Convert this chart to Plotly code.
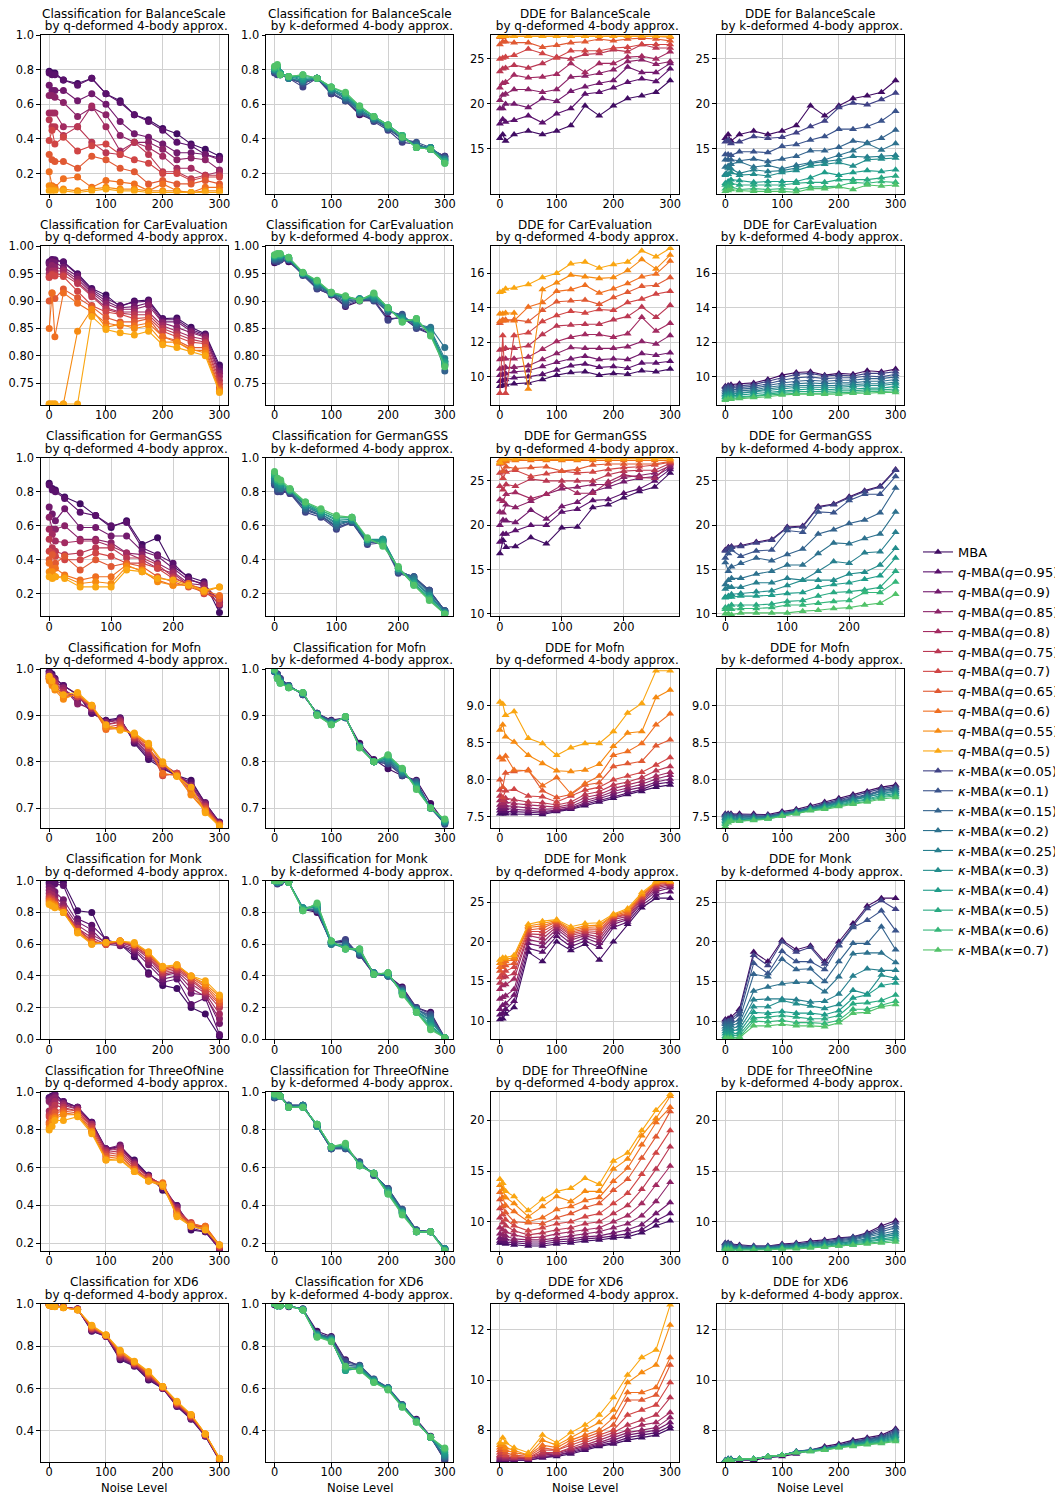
import plotly.graph_objects as go
from plotly.colors import sample_colorscale

# ---------------- data ----------------
NOISE = [0, 5, 10, 25, 50, 75, 100, 125, 150, 175, 200, 225, 250, 275, 300]
NOISE_GER = [0, 5, 10, 25, 50, 75, 100, 125, 150, 175, 200, 225, 250, 275]
DATASETS = ["BalanceScale", "CarEvaluation", "GermanGSS", "Mofn", "Monk", "ThreeOfNine", "XD6"]
Q_VALUES = ["0.95", "0.9", "0.85", "0.8", "0.75", "0.7", "0.65", "0.6", "0.55", "0.5"]
K_VALUES = ["0.05", "0.1", "0.15", "0.2", "0.25", "0.3", "0.4", "0.5", "0.6", "0.7"]

# each panel: first list = MBA, then 10 deformed variants
BAL_CLS_Q = [
    [.79, .78, .78, .74, .72, .75, .66, .62, .54, .51, .46, .43, .37, .34, .30],
    [.78, .77, .77, .74, .71, .75, .66, .61, .54, .50, .45, .38, .36, .31, .29],
    [.71, .68, .68, .68, .62, .66, .60, .50, .43, .41, .37, .32, .32, .31, .28],
    [.65, .65, .64, .61, .53, .58, .54, .42, .38, .38, .34, .28, .29, .28, .22],
    [.55, .55, .55, .47, .47, .59, .47, .33, .38, .35, .30, .23, .23, .19, .21],
    [.51, .47, .47, .42, .47, .38, .32, .31, .38, .31, .21, .21, .17, .19, .19],
    [.39, .45, .37, .41, .33, .36, .37, .31, .28, .26, .20, .20, .16, .18, .18],
    [.31, .28, .27, .27, .23, .30, .28, .23, .21, .14, .16, .14, .14, .16, .14],
    [.21, .13, .12, .17, .18, .12, .16, .15, .14, .10, .14, .10, .09, .12, .12],
    [.13, .12, .11, .11, .10, .11, .12, .11, .11, .10, .10, .10, .09, .10, .10],
    [.10, .10, .10, .10, .09, .10, .11, .10, .10, .09, .09, .09, .09, .09, .09]]
BAL_CLS_K = [
    [.79, .78, .78, .75, .72, .75, .66, .62, .54, .51, .46, .40, .37, .34, .30],
    [.78, .77, .77, .75, .70, .75, .66, .62, .55, .50, .45, .38, .37, .34, .30],
    [.79, .78, .77, .75, .72, .75, .67, .62, .55, .51, .46, .40, .38, .35, .29],
    [.79, .79, .77, .75, .73, .75, .68, .63, .56, .51, .46, .40, .37, .34, .29],
    [.80, .79, .78, .75, .73, .75, .68, .64, .56, .52, .47, .41, .36, .35, .28],
    [.80, .80, .78, .76, .74, .75, .69, .64, .57, .52, .47, .41, .36, .35, .28],
    [.80, .81, .78, .75, .74, .75, .69, .65, .57, .52, .47, .42, .35, .35, .28],
    [.81, .81, .78, .76, .75, .75, .69, .65, .58, .53, .48, .42, .35, .34, .27],
    [.81, .82, .78, .76, .76, .75, .70, .66, .58, .53, .48, .42, .35, .34, .27],
    [.81, .82, .77, .76, .77, .75, .70, .66, .59, .53, .48, .42, .35, .34, .26],
    [.82, .83, .77, .76, .77, .75, .70, .67, .59, .53, .48, .41, .35, .34, .26]]
BAL_DDE_Q = [
    [16.2, 16.6, 15.9, 16.6, 17.0, 16.6, 17.0, 17.6, 19.8, 18.7, 19.8, 20.6, 20.9, 21.3, 22.6],
    [17.8, 18.3, 18.0, 18.2, 18.7, 17.9, 18.9, 19.5, 21.1, 21.3, 21.8, 22.4, 22.8, 22.5, 23.9],
    [19.5, 19.5, 20.0, 20.0, 19.6, 20.6, 20.3, 21.4, 21.9, 22.3, 22.6, 24.1, 23.5, 23.5, 24.5],
    [20.4, 21.0, 21.1, 21.6, 21.6, 21.3, 21.6, 23.0, 23.1, 23.4, 23.8, 24.7, 24.9, 24.4, 24.7],
    [21.8, 22.3, 22.4, 23.2, 22.9, 23.0, 23.3, 24.5, 23.5, 24.5, 24.5, 25.2, 25.3, 25.0, 25.8],
    [23.6, 23.9, 24.0, 24.3, 24.0, 24.5, 25.2, 25.0, 25.5, 25.6, 26.0, 25.8, 26.6, 26.2, 26.2],
    [25.0, 25.1, 25.2, 25.4, 26.1, 25.6, 25.1, 25.9, 25.9, 25.9, 26.2, 26.3, 26.6, 26.6, 26.6],
    [26.6, 26.9, 26.9, 26.8, 26.8, 26.3, 26.5, 26.8, 26.9, 27.2, 27.0, 27.2, 27.3, 27.2, 27.0],
    [27.4, 27.4, 27.5, 27.5, 27.5, 27.5, 27.5, 27.5, 27.5, 27.5, 27.5, 27.5, 27.5, 27.5, 27.4],
    [27.5, 27.5, 27.5, 27.5, 27.5, 27.5, 27.5, 27.5, 27.5, 27.5, 27.5, 27.5, 27.5, 27.5, 27.5],
    [27.5, 27.5, 27.5, 27.5, 27.5, 27.5, 27.5, 27.5, 27.5, 27.5, 27.5, 27.5, 27.5, 27.5, 27.5]]
BAL_DDE_K = [
    [16.2, 16.6, 15.9, 16.6, 17.0, 16.6, 17.0, 17.6, 19.8, 18.7, 19.8, 20.6, 20.9, 21.3, 22.6],
    [15.8, 16.0, 15.6, 15.8, 16.4, 16.2, 16.3, 16.8, 17.5, 18.1, 19.6, 20.1, 19.9, 20.5, 21.2],
    [14.4, 14.4, 14.3, 14.7, 14.7, 14.6, 15.3, 15.5, 16.0, 16.4, 17.2, 17.2, 17.5, 18.1, 19.2],
    [13.8, 13.8, 13.8, 13.7, 13.9, 13.6, 13.9, 14.2, 14.8, 14.8, 15.2, 15.9, 15.7, 16.2, 17.1],
    [13.0, 13.1, 13.3, 13.6, 13.0, 13.2, 12.8, 13.2, 13.5, 13.8, 14.3, 14.8, 15.6, 14.9, 15.6],
    [12.2, 12.9, 12.8, 12.3, 12.7, 12.5, 12.6, 12.9, 13.4, 13.6, 13.8, 14.2, 14.1, 14.2, 14.3],
    [12.1, 12.2, 12.4, 12.1, 12.2, 12.0, 12.4, 12.6, 13.1, 13.3, 13.5, 13.1, 13.8, 13.9, 14.0],
    [11.2, 11.4, 11.6, 11.5, 11.3, 11.4, 11.4, 11.4, 11.8, 12.4, 12.1, 12.4, 12.6, 12.5, 12.7],
    [11.0, 11.1, 11.2, 11.0, 11.0, 11.0, 11.0, 11.2, 11.3, 11.3, 11.6, 11.6, 11.6, 11.8, 12.0],
    [10.6, 10.8, 10.8, 10.5, 10.6, 10.5, 10.6, 10.5, 10.8, 10.8, 10.9, 11.3, 11.2, 11.4, 11.3],
    [10.3, 10.4, 10.5, 10.4, 10.3, 10.3, 10.3, 10.2, 10.6, 10.6, 10.8, 10.5, 11.0, 10.9, 11.0]]

CAR_CLS_Q = [
    [.970, .975, .975, .972, .950, .923, .911, .890, .900, .902, .868, .869, .852, .840, .783],
    [.972, .976, .975, .971, .948, .921, .905, .892, .898, .900, .866, .866, .848, .838, .778],
    [.968, .972, .970, .962, .945, .918, .900, .888, .890, .897, .862, .862, .845, .836, .772],
    [.958, .965, .962, .958, .940, .915, .895, .885, .885, .892, .860, .852, .842, .834, .768],
    [.950, .955, .955, .955, .935, .912, .888, .880, .880, .880, .855, .845, .835, .830, .762],
    [.945, .950, .950, .948, .932, .908, .885, .878, .875, .875, .850, .840, .830, .825, .755],
    [.943, .948, .946, .945, .918, .892, .880, .876, .868, .870, .845, .835, .825, .822, .748],
    [.900, .915, .905, .922, .906, .890, .870, .862, .862, .868, .835, .828, .815, .815, .742],
    [.850, .915, .835, .915, .896, .880, .860, .855, .855, .860, .835, .825, .810, .810, .738],
    [.712, .712, .712, .712, .845, .885, .852, .858, .850, .855, .825, .825, .812, .805, .735],
    [.712, .712, .712, .712, .712, .872, .848, .842, .838, .845, .820, .815, .808, .800, .733]]
CAR_CLS_K = [
    [.970, .975, .975, .972, .950, .923, .911, .890, .900, .902, .868, .869, .852, .840, .783],
    [.973, .972, .975, .975, .947, .922, .912, .892, .902, .900, .865, .872, .850, .840, .790],
    [.975, .975, .976, .975, .948, .925, .913, .896, .903, .902, .880, .876, .852, .845, .785],
    [.976, .978, .978, .976, .949, .928, .913, .900, .903, .903, .882, .873, .855, .850, .772],
    [.978, .980, .980, .977, .950, .930, .914, .903, .904, .905, .884, .870, .858, .852, .815],
    [.980, .982, .982, .978, .950, .932, .914, .905, .905, .907, .885, .870, .860, .848, .795],
    [.981, .983, .983, .978, .951, .934, .915, .906, .904, .908, .886, .868, .862, .845, .790],
    [.982, .984, .984, .979, .951, .935, .915, .907, .903, .910, .887, .866, .864, .842, .788],
    [.983, .985, .985, .979, .952, .936, .915, .908, .902, .912, .888, .864, .866, .840, .785],
    [.984, .986, .986, .980, .952, .937, .916, .909, .902, .914, .888, .862, .868, .838, .782],
    [.985, .987, .987, .980, .953, .938, .916, .910, .901, .915, .888, .862, .868, .836, .780]]
CAR_DDE_Q = [
    [9.45, 9.5, 9.55, 9.6, 9.65, 9.85, 10.1, 10.25, 10.3, 10.1, 10.2, 10.15, 10.35, 10.3, 10.45],
    [9.75, 9.8, 9.85, 9.95, 10.0, 10.15, 10.4, 10.65, 10.75, 10.55, 10.6, 10.5, 10.8, 10.8, 10.9],
    [10.1, 10.15, 10.2, 10.3, 10.35, 10.6, 10.85, 11.05, 11.2, 11.0, 11.05, 11.0, 11.35, 11.25, 11.4],
    [10.45, 10.5, 10.55, 10.55, 10.65, 11.0, 11.35, 11.7, 11.65, 11.65, 11.65, 11.75, 12.05, 11.9, 12.4],
    [11.0, 11.05, 11.05, 11.05, 11.15, 11.6, 12.05, 12.3, 12.45, 12.45, 12.3, 12.5, 13.45, 12.65, 13.1],
    [11.55, 11.6, 11.65, 11.65, 11.8, 12.45, 12.95, 13.0, 13.05, 13.05, 13.3, 13.5, 14.05, 13.45, 14.15],
    [9.05, 12.4, 9.05, 12.4, 12.55, 13.2, 13.55, 13.8, 13.7, 13.9, 13.85, 14.3, 14.5, 14.8, 14.95],
    [13.1, 13.25, 13.3, 13.3, 13.2, 13.85, 14.35, 14.4, 14.45, 14.2, 14.6, 14.9, 15.25, 15.3, 15.75],
    [13.2, 13.3, 13.25, 13.25, 14.05, 14.3, 14.95, 15.05, 15.3, 14.85, 15.1, 15.4, 15.8, 15.95, 16.7],
    [13.65, 13.65, 13.7, 13.7, 9.3, 15.05, 15.45, 15.9, 15.8, 15.7, 15.75, 16.15, 16.8, 16.25, 17.05],
    [14.9, 14.95, 15.1, 15.15, 15.35, 15.75, 16.0, 16.55, 16.65, 16.3, 16.5, 16.65, 17.3, 16.95, 17.45]]
CAR_DDE_K = [
    [9.45, 9.5, 9.55, 9.6, 9.65, 9.85, 10.1, 10.25, 10.3, 10.1, 10.2, 10.15, 10.35, 10.3, 10.45],
    [9.4, 9.45, 9.45, 9.5, 9.55, 9.75, 9.95, 10.15, 10.2, 10.05, 10.1, 10.05, 10.2, 10.2, 10.3],
    [9.3, 9.35, 9.35, 9.4, 9.45, 9.6, 9.8, 9.95, 10.0, 9.9, 9.95, 9.95, 10.05, 10.0, 10.15],
    [9.2, 9.25, 9.25, 9.3, 9.35, 9.5, 9.65, 9.75, 9.8, 9.75, 9.8, 9.8, 9.9, 9.9, 10.0],
    [9.1, 9.15, 9.15, 9.2, 9.25, 9.4, 9.5, 9.6, 9.65, 9.6, 9.65, 9.65, 9.75, 9.75, 9.85],
    [9.0, 9.05, 9.05, 9.1, 9.15, 9.3, 9.4, 9.5, 9.5, 9.5, 9.5, 9.55, 9.6, 9.6, 9.7],
    [8.95, 9.0, 9.0, 9.05, 9.1, 9.2, 9.3, 9.4, 9.4, 9.4, 9.4, 9.45, 9.5, 9.5, 9.6],
    [8.85, 8.9, 8.9, 8.95, 9.0, 9.1, 9.2, 9.25, 9.3, 9.25, 9.3, 9.3, 9.35, 9.35, 9.45],
    [8.8, 8.8, 8.85, 8.85, 8.9, 9.0, 9.1, 9.15, 9.15, 9.15, 9.2, 9.2, 9.25, 9.25, 9.3],
    [8.7, 8.75, 8.75, 8.8, 8.85, 8.95, 9.0, 9.05, 9.05, 9.05, 9.1, 9.1, 9.15, 9.15, 9.2],
    [8.65, 8.7, 8.7, 8.75, 8.8, 8.85, 8.95, 9.0, 9.0, 9.0, 9.0, 9.05, 9.05, 9.1, 9.1]]

GER_CLS_Q = [
    [.85, .82, .81, .77, .73, .66, .59, .63, .49, .53, .36, .30, .27, .09],
    [.84, .81, .80, .76, .68, .66, .60, .62, .47, .43, .38, .29, .25, .13],
    [.71, .67, .63, .70, .59, .59, .54, .54, .45, .42, .35, .28, .26, .15],
    [.65, .58, .58, .60, .52, .52, .50, .44, .43, .38, .33, .26, .25, .16],
    [.58, .55, .51, .50, .51, .51, .48, .44, .40, .35, .32, .25, .23, .17],
    [.52, .47, .45, .43, .44, .47, .47, .41, .41, .37, .30, .25, .22, .14],
    [.45, .44, .42, .40, .40, .44, .42, .38, .38, .35, .29, .26, .20, .18],
    [.40, .43, .38, .42, .34, .40, .36, .38, .36, .30, .27, .24, .21, .17],
    [.38, .35, .35, .31, .28, .30, .30, .37, .33, .28, .25, .26, .22, .19],
    [.33, .33, .30, .30, .26, .27, .26, .36, .34, .27, .25, .25, .21, .24],
    [.30, .29, .30, .29, .24, .24, .24, .34, .33, .29, .28, .25, .22, .24]]
GER_CLS_K = [
    [.85, .82, .81, .79, .70, .66, .59, .62, .50, .51, .33, .30, .22, .10],
    [.84, .80, .80, .79, .68, .65, .58, .62, .49, .50, .32, .29, .22, .10],
    [.85, .81, .81, .80, .69, .66, .59, .62, .50, .51, .33, .30, .22, .10],
    [.86, .82, .82, .80, .70, .66, .60, .63, .50, .51, .33, .30, .21, .10],
    [.87, .83, .82, .81, .71, .67, .61, .63, .51, .52, .34, .29, .20, .09],
    [.88, .84, .83, .81, .72, .67, .62, .63, .51, .52, .34, .28, .19, .09],
    [.89, .85, .84, .81, .72, .68, .63, .64, .52, .52, .35, .27, .19, .09],
    [.90, .86, .85, .81, .73, .68, .64, .64, .52, .51, .35, .26, .18, .08],
    [.90, .87, .86, .81, .73, .69, .65, .65, .52, .50, .35, .26, .17, .08],
    [.91, .87, .86, .81, .74, .69, .65, .65, .52, .49, .35, .25, .17, .08],
    [.92, .88, .87, .82, .74, .70, .66, .65, .53, .48, .36, .25, .16, .08]]
GER_DDE_Q = [
    [16.8, 18.3, 17.5, 17.6, 18.6, 17.9, 19.7, 19.8, 22.0, 22.3, 23.1, 23.8, 24.3, 25.9],
    [18.1, 19.0, 19.0, 19.4, 20.0, 20.0, 21.5, 21.8, 22.8, 22.9, 23.6, 24.1, 25.0, 26.3],
    [20.0, 20.6, 20.5, 20.3, 21.7, 20.7, 22.1, 22.6, 23.8, 24.3, 24.9, 25.3, 25.5, 26.5],
    [21.5, 21.4, 22.3, 22.0, 22.7, 23.5, 24.1, 24.3, 24.6, 24.6, 25.4, 25.6, 25.9, 26.7],
    [22.9, 22.7, 23.5, 23.7, 23.0, 23.5, 24.5, 23.6, 23.6, 24.9, 25.7, 25.4, 25.3, 26.9],
    [24.4, 24.0, 24.6, 24.4, 25.2, 25.0, 25.0, 25.0, 25.0, 25.7, 26.1, 26.2, 26.2, 27.0],
    [25.9, 25.3, 26.0, 26.2, 25.5, 25.8, 26.1, 25.9, 26.0, 26.3, 26.5, 26.6, 26.8, 27.1],
    [26.9, 26.1, 26.6, 26.4, 26.5, 26.6, 26.1, 26.3, 26.8, 26.9, 26.9, 26.9, 26.9, 27.2],
    [27.3, 27.0, 27.2, 27.3, 27.3, 27.3, 27.3, 27.3, 27.3, 27.3, 27.3, 27.3, 27.3, 27.3],
    [27.0, 27.3, 27.4, 27.4, 27.5, 27.4, 27.4, 27.4, 27.5, 27.5, 27.5, 27.5, 27.5, 27.5],
    [27.1, 27.5, 27.5, 27.5, 27.5, 27.5, 27.5, 27.5, 27.5, 27.5, 27.5, 27.5, 27.5, 27.5]]
GER_DDE_K = [
    [17.2, 17.5, 17.6, 17.7, 18.1, 18.4, 19.8, 19.9, 22.1, 22.4, 23.2, 23.9, 24.4, 26.3],
    [17.1, 17.4, 17.5, 17.6, 18.0, 18.3, 19.7, 19.8, 22.0, 22.3, 23.1, 23.8, 24.3, 26.2],
    [16.3, 16.8, 17.2, 16.5, 17.1, 17.2, 19.4, 19.2, 21.5, 21.4, 22.8, 23.5, 23.5, 25.5],
    [15.8, 14.8, 15.3, 15.7, 16.3, 16.0, 16.7, 17.3, 19.0, 19.5, 20.2, 20.6, 21.4, 24.2],
    [13.3, 13.8, 14.0, 14.0, 14.5, 14.8, 15.5, 15.5, 16.8, 18.0, 17.9, 18.5, 19.0, 21.5],
    [12.8, 13.0, 13.0, 13.0, 13.5, 13.5, 14.0, 13.8, 14.8, 15.9, 15.7, 16.9, 17.0, 19.2],
    [11.9, 12.0, 12.2, 12.3, 12.5, 12.6, 13.2, 13.8, 13.8, 13.8, 14.5, 14.7, 15.5, 17.4],
    [11.8, 11.9, 11.9, 12.0, 12.0, 12.1, 12.3, 12.4, 13.0, 13.3, 13.5, 13.9, 14.3, 16.3],
    [10.7, 10.8, 11.0, 11.0, 11.0, 11.1, 11.4, 11.5, 12.0, 12.4, 12.5, 12.7, 13.0, 14.8],
    [10.5, 10.5, 10.5, 10.6, 10.6, 10.7, 11.0, 11.0, 11.2, 11.4, 11.5, 12.4, 12.4, 13.6],
    [10.0, 10.0, 9.9, 10.1, 10.1, 10.1, 10.1, 10.3, 10.4, 10.6, 10.7, 11.0, 11.2, 12.2]]

MOF_CLS_Q = [
    [.995, .99, .98, .965, .945, .905, .89, .895, .84, .805, .785, .77, .76, .71, .67],
    [.995, .985, .98, .965, .945, .905, .888, .893, .842, .81, .787, .77, .755, .712, .668],
    [.99, .985, .975, .96, .93, .91, .885, .893, .845, .815, .79, .772, .75, .71, .668],
    [.99, .98, .975, .96, .925, .915, .885, .89, .848, .82, .79, .773, .748, .708, .667],
    [.985, .98, .97, .955, .94, .915, .88, .888, .85, .825, .792, .775, .745, .705, .666],
    [.985, .975, .97, .95, .94, .918, .88, .885, .852, .828, .795, .775, .74, .703, .665],
    [.98, .975, .965, .945, .942, .92, .875, .88, .855, .83, .77, .775, .738, .70, .665],
    [.98, .97, .96, .94, .945, .92, .872, .875, .857, .835, .772, .772, .735, .698, .664],
    [.98, .97, .96, .94, .945, .92, .87, .872, .858, .835, .775, .77, .73, .695, .663],
    [.975, .965, .955, .935, .948, .922, .875, .87, .86, .838, .795, .77, .728, .693, .662],
    [.985, .975, .96, .945, .95, .922, .88, .868, .862, .84, .80, .768, .745, .69, .66]]
MOF_CLS_K = [
    [.995, .99, .98, .965, .945, .905, .89, .895, .84, .805, .785, .77, .76, .71, .67],
    [.995, .99, .98, .965, .945, .905, .888, .895, .835, .80, .795, .77, .758, .70, .665],
    [.995, .988, .978, .965, .946, .905, .887, .895, .834, .80, .797, .772, .756, .70, .667],
    [.995, .986, .976, .964, .947, .904, .886, .896, .834, .80, .80, .774, .754, .70, .668],
    [.997, .985, .975, .963, .947, .903, .885, .896, .833, .80, .802, .776, .752, .70, .669],
    [.997, .984, .974, .962, .948, .903, .884, .897, .833, .80, .805, .778, .75, .70, .67],
    [.998, .983, .973, .962, .948, .902, .883, .897, .832, .80, .807, .78, .748, .70, .671],
    [.998, .982, .972, .961, .949, .902, .882, .897, .832, .80, .81, .782, .746, .70, .672],
    [.999, .981, .971, .96, .949, .901, .881, .898, .831, .80, .812, .784, .744, .70, .674],
    [.999, .98, .97, .96, .95, .901, .88, .898, .831, .80, .814, .785, .742, .70, .675],
    [1.0, .98, .97, .96, .95, .90, .88, .898, .83, .80, .815, .786, .74, .70, .676]]
MOF_DDE_Q = [
    [7.54, 7.54, 7.54, 7.54, 7.54, 7.53, 7.57, 7.60, 7.65, 7.70, 7.75, 7.80, 7.84, 7.90, 7.93],
    [7.58, 7.57, 7.57, 7.57, 7.56, 7.55, 7.58, 7.61, 7.67, 7.72, 7.78, 7.83, 7.87, 7.94, 7.97],
    [7.62, 7.60, 7.61, 7.60, 7.58, 7.57, 7.59, 7.62, 7.69, 7.75, 7.81, 7.86, 7.90, 7.97, 8.01],
    [7.66, 7.64, 7.65, 7.64, 7.62, 7.60, 7.61, 7.64, 7.72, 7.77, 7.84, 7.89, 7.94, 8.01, 8.06],
    [7.72, 7.68, 7.70, 7.68, 7.66, 7.64, 7.63, 7.67, 7.76, 7.80, 7.88, 7.93, 7.98, 8.05, 8.10],
    [7.78, 7.72, 7.75, 7.73, 7.70, 7.69, 7.66, 7.70, 7.80, 7.84, 7.93, 7.97, 8.03, 8.12, 8.18],
    [7.86, 7.76, 7.85, 7.87, 7.78, 7.77, 7.70, 7.78, 7.86, 7.90, 8.00, 8.05, 8.10, 8.20, 8.30],
    [8.00, 7.90, 8.09, 8.11, 8.13, 7.85, 7.76, 7.80, 7.93, 7.96, 8.18, 8.22, 8.25, 8.46, 8.54],
    [8.30, 8.27, 8.32, 8.13, 8.12, 7.92, 8.03, 7.81, 7.95, 8.05, 8.33, 8.38, 8.49, 8.74, 8.89],
    [8.67, 8.74, 8.58, 8.51, 8.33, 8.22, 8.12, 8.11, 8.13, 8.21, 8.45, 8.63, 8.65, 9.11, 9.21],
    [9.05, 9.02, 8.87, 8.92, 8.56, 8.49, 8.33, 8.43, 8.49, 8.49, 8.65, 8.90, 9.03, 9.47, 9.47]]
MOF_DDE_K = [
    [7.54, 7.54, 7.54, 7.54, 7.54, 7.53, 7.57, 7.60, 7.65, 7.70, 7.75, 7.80, 7.84, 7.90, 7.93],
    [7.53, 7.53, 7.53, 7.52, 7.52, 7.52, 7.55, 7.58, 7.63, 7.68, 7.73, 7.78, 7.82, 7.88, 7.91],
    [7.52, 7.52, 7.52, 7.51, 7.51, 7.51, 7.55, 7.58, 7.62, 7.67, 7.72, 7.76, 7.80, 7.86, 7.89],
    [7.51, 7.51, 7.51, 7.50, 7.50, 7.50, 7.54, 7.57, 7.62, 7.66, 7.71, 7.75, 7.79, 7.85, 7.88],
    [7.49, 7.50, 7.50, 7.49, 7.49, 7.50, 7.54, 7.57, 7.61, 7.65, 7.70, 7.74, 7.78, 7.84, 7.86],
    [7.48, 7.49, 7.49, 7.48, 7.49, 7.49, 7.53, 7.56, 7.61, 7.64, 7.69, 7.73, 7.77, 7.82, 7.85],
    [7.46, 7.48, 7.48, 7.47, 7.48, 7.49, 7.53, 7.56, 7.60, 7.64, 7.68, 7.72, 7.76, 7.81, 7.83],
    [7.44, 7.47, 7.47, 7.46, 7.47, 7.48, 7.52, 7.55, 7.60, 7.63, 7.67, 7.71, 7.74, 7.79, 7.81],
    [7.42, 7.45, 7.46, 7.45, 7.46, 7.48, 7.52, 7.55, 7.59, 7.62, 7.66, 7.69, 7.73, 7.77, 7.80],
    [7.40, 7.44, 7.45, 7.44, 7.46, 7.47, 7.51, 7.54, 7.59, 7.61, 7.65, 7.68, 7.71, 7.76, 7.78],
    [7.37, 7.42, 7.44, 7.44, 7.45, 7.47, 7.51, 7.54, 7.58, 7.60, 7.64, 7.67, 7.70, 7.74, 7.76]]

MON_CLS_Q = [
    [.99, .99, .99, .99, .81, .80, .62, .60, .52, .42, .34, .32, .20, .16, .02],
    [.98, .99, .98, .97, .76, .72, .63, .60, .54, .41, .36, .38, .22, .26, .03],
    [.96, .95, .93, .88, .74, .69, .60, .59, .56, .47, .38, .40, .29, .28, .10],
    [.94, .93, .90, .85, .72, .66, .61, .60, .57, .49, .40, .42, .32, .27, .13],
    [.92, .91, .88, .83, .70, .64, .60, .61, .58, .51, .41, .43, .35, .29, .16],
    [.90, .89, .87, .82, .70, .62, .60, .61, .59, .52, .42, .44, .37, .30, .20],
    [.89, .88, .86, .81, .69, .62, .60, .62, .59, .53, .43, .45, .38, .31, .22],
    [.88, .87, .85, .81, .68, .61, .60, .62, .60, .54, .44, .46, .39, .33, .23],
    [.87, .86, .85, .80, .68, .61, .61, .62, .60, .54, .45, .46, .40, .34, .25],
    [.86, .85, .84, .80, .68, .60, .61, .62, .60, .55, .45, .47, .40, .35, .27],
    [.85, .84, .83, .80, .67, .60, .61, .62, .61, .55, .46, .47, .40, .37, .28]]
MON_CLS_K = [
    [1.0, .99, .99, .99, .82, .80, .61, .62, .53, .41, .40, .33, .20, .17, .01],
    [1.0, .98, .99, .99, .82, .81, .61, .63, .53, .41, .40, .32, .20, .16, .01],
    [1.0, .99, .99, .99, .82, .82, .61, .61, .54, .42, .40, .31, .19, .15, .01],
    [1.0, .99, 1.0, .99, .82, .82, .60, .60, .54, .42, .40, .31, .19, .14, .01],
    [1.0, .99, 1.0, .99, .83, .83, .60, .59, .55, .42, .40, .30, .19, .13, .01],
    [1.0, .99, 1.0, .99, .83, .83, .60, .58, .55, .42, .41, .30, .18, .12, .01],
    [1.0, .99, 1.0, .99, .83, .84, .61, .58, .56, .41, .41, .30, .18, .11, .01],
    [1.0, 1.0, 1.0, .99, .82, .84, .61, .57, .56, .41, .41, .29, .18, .09, .01],
    [1.0, 1.0, 1.0, .99, .82, .85, .62, .57, .57, .41, .42, .29, .17, .08, .01],
    [1.0, 1.0, 1.0, .99, .81, .85, .62, .57, .57, .41, .42, .29, .17, .07, .01],
    [1.0, 1.0, 1.0, .99, .81, .86, .62, .57, .57, .41, .42, .28, .17, .06, .01]]
MON_DDE_Q = [
    [10.2, 10.3, 10.9, 11.7, 18.7, 17.5, 20.0, 18.9, 19.7, 17.7, 20.0, 22.2, 24.3, 25.5, 25.5],
    [10.8, 11.0, 11.5, 12.5, 19.2, 18.7, 20.7, 19.4, 20.1, 19.3, 21.8, 22.5, 24.6, 25.9, 26.3],
    [11.5, 12.0, 12.2, 13.3, 19.8, 19.4, 21.2, 19.8, 20.5, 19.8, 22.2, 22.8, 24.9, 26.3, 26.8],
    [12.8, 13.0, 13.2, 14.0, 20.3, 19.9, 21.6, 20.2, 20.8, 20.2, 22.5, 23.0, 25.1, 26.6, 27.0],
    [14.0, 14.5, 14.6, 15.3, 20.8, 20.4, 21.9, 20.5, 21.0, 20.6, 22.8, 23.2, 25.3, 26.8, 27.2],
    [14.8, 15.5, 15.6, 16.0, 21.0, 20.9, 22.1, 20.8, 21.2, 21.0, 23.0, 23.4, 25.5, 27.0, 27.3],
    [15.5, 16.0, 16.3, 16.8, 21.3, 21.3, 22.3, 21.0, 21.4, 21.3, 23.1, 23.5, 25.6, 27.2, 27.4],
    [16.3, 16.8, 17.0, 17.3, 21.5, 21.7, 22.5, 21.2, 21.6, 21.6, 23.2, 23.6, 25.8, 27.3, 27.5],
    [16.8, 17.3, 17.5, 17.8, 21.8, 22.0, 22.6, 21.4, 21.8, 21.9, 23.3, 23.8, 25.9, 27.4, 27.5],
    [17.3, 17.8, 17.8, 18.0, 22.0, 22.3, 22.7, 21.6, 22.0, 22.1, 23.4, 24.0, 26.0, 27.5, 27.6],
    [17.7, 18.0, 18.0, 18.3, 22.2, 22.6, 22.8, 21.9, 22.3, 22.4, 23.5, 24.2, 26.2, 27.6, 27.6]]
MON_DDE_K = [
    [10.2, 10.3, 10.5, 11.5, 18.7, 17.5, 20.2, 19.0, 19.5, 17.5, 20.0, 22.3, 24.5, 25.5, 25.5],
    [10.0, 10.0, 10.2, 11.2, 18.3, 17.0, 20.0, 18.7, 19.3, 17.2, 19.6, 22.0, 24.2, 25.2, 24.1],
    [9.8, 9.9, 10.0, 10.8, 17.3, 16.0, 18.8, 17.5, 17.5, 16.5, 19.5, 21.8, 22.7, 23.9, 21.4],
    [9.6, 9.6, 9.7, 10.2, 15.9, 15.6, 17.8, 16.5, 16.6, 15.0, 17.5, 19.8, 19.8, 21.9, 19.0],
    [9.3, 9.3, 9.4, 9.8, 13.8, 14.3, 14.7, 14.9, 14.9, 13.7, 15.6, 18.5, 18.6, 18.6, 17.4],
    [9.0, 9.0, 9.0, 9.4, 12.7, 12.8, 12.8, 12.7, 12.4, 12.5, 13.4, 15.7, 16.6, 16.4, 16.4],
    [8.7, 8.7, 8.7, 9.0, 11.8, 11.8, 12.6, 12.2, 11.9, 11.6, 12.1, 13.9, 13.4, 15.8, 15.4],
    [8.4, 8.4, 8.3, 8.6, 11.1, 11.0, 11.2, 11.0, 11.0, 10.8, 11.3, 12.9, 13.3, 14.5, 14.8],
    [8.1, 8.1, 8.1, 8.3, 10.4, 10.5, 10.7, 10.5, 10.3, 10.3, 10.7, 12.2, 12.3, 12.6, 13.3],
    [7.9, 7.9, 7.9, 8.0, 10.0, 9.9, 10.1, 9.8, 9.8, 9.7, 10.1, 11.5, 11.5, 12.0, 12.5],
    [7.8, 7.8, 7.8, 7.9, 9.4, 9.4, 9.6, 9.4, 9.4, 9.3, 9.8, 11.0, 11.1, 11.8, 12.1]]

THR_CLS_Q = [
    [.97, .98, .99, .95, .92, .84, .70, .71, .64, .56, .48, .40, .27, .26, .17],
    [.97, .97, .99, .95, .92, .84, .70, .71, .63, .56, .49, .40, .28, .26, .17],
    [.96, .97, .98, .94, .92, .83, .70, .72, .63, .55, .50, .39, .29, .27, .17],
    [.95, .96, .97, .94, .91, .83, .69, .71, .62, .55, .51, .39, .30, .27, .17],
    [.90, .93, .95, .93, .91, .83, .69, .70, .62, .55, .51, .38, .30, .28, .18],
    [.88, .91, .93, .92, .90, .82, .68, .69, .61, .55, .51, .37, .30, .28, .18],
    [.87, .89, .90, .91, .90, .81, .67, .68, .60, .54, .51, .37, .31, .28, .18],
    [.84, .87, .89, .90, .89, .80, .66, .67, .59, .54, .51, .36, .30, .29, .19],
    [.83, .86, .87, .89, .88, .79, .65, .66, .59, .53, .52, .35, .30, .29, .19],
    [.81, .84, .86, .88, .88, .79, .64, .65, .58, .53, .50, .35, .29, .28, .19],
    [.80, .82, .85, .85, .87, .78, .64, .64, .58, .53, .51, .34, .29, .27, .19]]
THR_CLS_K = [
    [.97, .98, .98, .93, .93, .82, .70, .71, .63, .56, .49, .37, .27, .26, .17],
    [.97, .98, .98, .93, .93, .82, .70, .70, .63, .56, .49, .38, .27, .26, .17],
    [.97, .98, .98, .93, .93, .82, .70, .70, .63, .56, .49, .38, .27, .26, .17],
    [.98, .98, .98, .93, .93, .82, .70, .71, .62, .57, .48, .37, .27, .26, .17],
    [.98, .99, .98, .92, .93, .82, .71, .71, .62, .57, .48, .37, .26, .26, .17],
    [.98, .99, .98, .92, .93, .82, .71, .71, .62, .57, .48, .37, .26, .26, .17],
    [.98, .99, .98, .92, .92, .82, .71, .72, .62, .57, .47, .36, .26, .26, .17],
    [.99, .99, .98, .92, .92, .83, .71, .72, .61, .57, .47, .36, .26, .26, .16],
    [.99, .99, .98, .92, .92, .83, .71, .72, .61, .57, .47, .36, .26, .26, .16],
    [.99, .99, .98, .92, .92, .83, .71, .72, .61, .57, .46, .36, .26, .26, .16],
    [.99, .99, .98, .92, .92, .83, .71, .73, .61, .57, .46, .35, .26, .26, .16]]
THR_DDE_Q = [
    [7.9, 7.9, 7.8, 7.7, 7.6, 7.6, 7.8, 7.9, 8.1, 8.2, 8.4, 8.5, 8.9, 9.6, 10.1],
    [8.1, 8.1, 8.0, 7.9, 7.8, 7.8, 8.0, 8.1, 8.3, 8.4, 8.6, 8.8, 9.2, 10.1, 10.8],
    [8.4, 8.3, 8.3, 8.1, 8.0, 8.0, 8.2, 8.3, 8.5, 8.6, 8.9, 9.2, 9.7, 10.8, 11.9],
    [8.8, 8.7, 8.6, 8.3, 8.2, 8.2, 8.4, 8.6, 8.8, 9.0, 9.4, 9.8, 10.6, 12.0, 13.9],
    [9.4, 9.2, 9.0, 8.7, 8.4, 8.5, 8.8, 9.0, 9.2, 9.4, 10.0, 10.6, 11.8, 13.6, 15.5],
    [10.4, 9.9, 9.6, 9.1, 8.7, 8.9, 9.2, 9.4, 9.8, 10.0, 10.8, 11.6, 13.2, 15.2, 17.4],
    [11.3, 10.7, 10.2, 9.6, 9.1, 9.4, 9.8, 10.0, 10.5, 10.8, 11.8, 12.8, 14.7, 16.8, 19.0],
    [12.2, 11.5, 10.9, 10.0, 9.9, 9.8, 10.4, 10.8, 11.4, 11.8, 13.1, 14.2, 16.3, 18.4, 20.9],
    [12.9, 12.4, 11.6, 11.0, 10.0, 10.4, 11.2, 11.5, 12.1, 12.4, 14.0, 15.3, 17.6, 19.8, 21.3],
    [13.6, 13.2, 12.4, 11.8, 10.5, 11.5, 12.5, 12.0, 13.0, 13.0, 15.2, 16.2, 18.5, 20.2, 22.4],
    [14.2, 13.8, 13.0, 12.5, 11.1, 12.2, 13.0, 13.3, 14.3, 13.7, 16.0, 16.8, 19.0, 21.0, 22.6]]
THR_DDE_K = [
    [7.9, 7.9, 7.8, 7.7, 7.6, 7.6, 7.8, 7.9, 8.1, 8.2, 8.4, 8.5, 8.9, 9.6, 10.1],
    [7.9, 7.9, 7.8, 7.6, 7.6, 7.6, 7.7, 7.8, 8.0, 8.1, 8.3, 8.5, 8.8, 9.4, 9.9],
    [7.8, 7.8, 7.7, 7.6, 7.5, 7.5, 7.7, 7.8, 7.9, 8.0, 8.2, 8.4, 8.7, 9.2, 9.6],
    [7.7, 7.7, 7.6, 7.5, 7.5, 7.5, 7.6, 7.7, 7.9, 8.0, 8.1, 8.3, 8.6, 9.0, 9.4],
    [7.6, 7.6, 7.5, 7.5, 7.4, 7.4, 7.6, 7.7, 7.8, 7.9, 8.0, 8.2, 8.5, 8.8, 9.1],
    [7.5, 7.5, 7.5, 7.4, 7.4, 7.4, 7.5, 7.6, 7.7, 7.8, 7.9, 8.1, 8.3, 8.6, 8.9],
    [7.4, 7.5, 7.4, 7.4, 7.3, 7.4, 7.5, 7.5, 7.7, 7.7, 7.9, 8.0, 8.2, 8.5, 8.7],
    [7.4, 7.4, 7.4, 7.3, 7.3, 7.3, 7.4, 7.5, 7.6, 7.7, 7.8, 7.9, 8.1, 8.3, 8.5],
    [7.3, 7.3, 7.3, 7.3, 7.3, 7.3, 7.4, 7.4, 7.5, 7.6, 7.7, 7.8, 8.0, 8.2, 8.3],
    [7.3, 7.3, 7.3, 7.2, 7.2, 7.3, 7.3, 7.4, 7.5, 7.5, 7.6, 7.7, 7.9, 8.0, 8.2],
    [7.2, 7.2, 7.2, 7.2, 7.2, 7.2, 7.3, 7.3, 7.4, 7.5, 7.6, 7.7, 7.8, 7.9, 8.0]]

XD6_CLS_Q = [
    [.995, .99, .99, .985, .975, .87, .845, .735, .705, .64, .60, .515, .455, .375, .26],
    [.995, .99, .99, .985, .975, .872, .846, .74, .708, .645, .60, .518, .458, .377, .262],
    [.995, .99, .99, .984, .974, .875, .847, .745, .71, .65, .602, .52, .46, .378, .264],
    [.994, .99, .99, .984, .974, .878, .848, .75, .712, .655, .603, .523, .463, .38, .265],
    [.994, .99, .988, .983, .973, .88, .848, .755, .715, .66, .604, .525, .466, .381, .266],
    [.994, .99, .988, .983, .972, .883, .849, .76, .717, .663, .605, .528, .468, .382, .267],
    [.993, .989, .987, .982, .972, .886, .85, .763, .72, .666, .606, .53, .47, .383, .268],
    [.993, .989, .987, .982, .971, .889, .85, .767, .722, .67, .607, .532, .472, .384, .269],
    [.993, .988, .986, .981, .971, .892, .851, .77, .724, .673, .608, .535, .474, .385, .27],
    [.992, .988, .986, .98, .97, .895, .852, .775, .726, .677, .609, .537, .476, .386, .271],
    [.992, .987, .985, .98, .97, .898, .853, .78, .728, .68, .61, .54, .478, .387, .272]]
XD6_CLS_K = [
    [.995, .99, .99, .985, .975, .87, .845, .735, .705, .64, .60, .515, .455, .375, .26],
    [1.0, .99, .99, .99, .975, .86, .84, .73, .71, .645, .605, .525, .45, .37, .265],
    [1.0, .99, .99, .99, .974, .858, .838, .72, .708, .644, .604, .524, .449, .37, .27],
    [1.0, .99, .99, .99, .973, .856, .836, .71, .705, .642, .603, .522, .448, .37, .275],
    [1.0, .99, .99, .99, .972, .854, .834, .70, .702, .64, .602, .52, .447, .37, .28],
    [1.0, .99, .99, .99, .971, .852, .832, .69, .70, .638, .601, .519, .446, .37, .285],
    [1.0, .99, .99, .99, .97, .85, .83, .685, .697, .636, .60, .518, .445, .37, .29],
    [1.0, .99, .99, .99, .97, .848, .828, .685, .694, .634, .599, .516, .444, .37, .30],
    [1.0, .99, .99, .99, .97, .846, .826, .69, .69, .632, .597, .515, .443, .37, .31],
    [1.0, .99, .99, .99, .97, .844, .824, .70, .687, .63, .595, .513, .442, .37, .315],
    [1.0, .99, .99, .99, .97, .842, .82, .705, .684, .628, .593, .512, .441, .37, .32]]
XD6_DDE_Q = [
    [6.75, 6.8, 6.8, 6.8, 6.8, 6.9, 6.95, 7.05, 7.2, 7.35, 7.45, 7.6, 7.7, 7.8, 8.05],
    [6.8, 6.8, 6.8, 6.8, 6.8, 6.9, 7.0, 7.1, 7.25, 7.4, 7.5, 7.7, 7.8, 7.9, 8.15],
    [6.85, 6.85, 6.85, 6.85, 6.85, 6.95, 7.0, 7.15, 7.3, 7.45, 7.6, 7.8, 7.9, 8.0, 8.3],
    [6.9, 6.9, 6.85, 6.85, 6.85, 7.0, 7.05, 7.2, 7.35, 7.5, 7.7, 7.9, 8.0, 8.1, 8.5],
    [6.95, 6.95, 6.9, 6.9, 6.85, 7.05, 7.1, 7.25, 7.4, 7.6, 7.8, 8.0, 8.2, 8.3, 8.7],
    [7.0, 7.0, 6.95, 6.9, 6.9, 7.1, 7.1, 7.3, 7.5, 7.7, 7.9, 8.2, 8.4, 8.6, 9.3],
    [7.1, 7.1, 7.0, 6.95, 6.9, 7.2, 7.2, 7.4, 7.6, 7.8, 8.0, 8.6, 8.8, 9.0, 9.9],
    [7.2, 7.2, 7.1, 7.0, 6.95, 7.3, 7.2, 7.5, 7.7, 7.9, 8.2, 9.2, 9.2, 9.4, 10.6],
    [7.3, 7.3, 7.2, 7.1, 7.0, 7.4, 7.3, 7.6, 7.8, 8.0, 8.5, 9.5, 9.5, 9.7, 10.9],
    [7.4, 7.4, 7.3, 7.2, 7.0, 7.6, 7.4, 7.7, 8.0, 8.3, 8.8, 9.9, 10.3, 10.6, 12.2],
    [7.5, 7.7, 7.5, 7.3, 7.1, 7.8, 7.5, 7.9, 8.2, 8.6, 9.3, 10.2, 10.9, 11.2, 13.0]]
XD6_DDE_K = [
    [6.75, 6.8, 6.8, 6.8, 6.8, 6.9, 6.95, 7.05, 7.2, 7.35, 7.45, 7.6, 7.7, 7.8, 8.05],
    [6.8, 6.85, 6.85, 6.85, 6.85, 6.95, 7.0, 7.15, 7.2, 7.3, 7.4, 7.55, 7.65, 7.75, 8.0],
    [6.8, 6.85, 6.85, 6.85, 6.85, 6.95, 7.0, 7.15, 7.2, 7.28, 7.38, 7.52, 7.62, 7.72, 7.95],
    [6.8, 6.85, 6.85, 6.85, 6.85, 6.95, 7.0, 7.14, 7.19, 7.27, 7.37, 7.5, 7.6, 7.69, 7.9],
    [6.78, 6.84, 6.84, 6.85, 6.85, 6.95, 7.0, 7.13, 7.18, 7.26, 7.36, 7.47, 7.57, 7.66, 7.85],
    [6.78, 6.83, 6.83, 6.85, 6.85, 6.95, 7.0, 7.13, 7.18, 7.25, 7.35, 7.45, 7.55, 7.63, 7.8],
    [6.77, 6.82, 6.82, 6.85, 6.85, 6.95, 7.0, 7.12, 7.17, 7.24, 7.34, 7.43, 7.52, 7.6, 7.75],
    [6.76, 6.81, 6.81, 6.85, 6.85, 6.95, 7.0, 7.12, 7.16, 7.23, 7.33, 7.41, 7.5, 7.56, 7.7],
    [6.76, 6.8, 6.8, 6.85, 6.85, 6.95, 7.0, 7.11, 7.16, 7.22, 7.32, 7.39, 7.47, 7.53, 7.65],
    [6.75, 6.8, 6.8, 6.85, 6.85, 6.95, 7.0, 7.11, 7.15, 7.21, 7.31, 7.37, 7.45, 7.5, 7.6],
    [6.75, 6.8, 6.8, 6.85, 6.85, 6.95, 7.0, 7.1, 7.15, 7.2, 7.3, 7.35, 7.42, 7.47, 7.55]]

# y-axis tick labels per row
CLS_TICKS = [[0.2, 0.4, 0.6, 0.8, 1.0], [0.75, 0.80, 0.85, 0.90, 0.95, 1.00],
             [0.2, 0.4, 0.6, 0.8, 1.0], [0.7, 0.8, 0.9, 1.0], [0.0, 0.2, 0.4, 0.6, 0.8, 1.0],
             [0.2, 0.4, 0.6, 0.8, 1.0], [0.4, 0.6, 0.8, 1.0]]
DDE_TICKS = [[15, 20, 25], [10, 12, 14, 16], [10, 15, 20, 25], [7.5, 8.0, 8.5, 9.0],
             [10, 15, 20, 25], [10, 15, 20], [8, 10, 12]]
X_TICKS = [0, 100, 200, 300]

# ---------------- styling / layout ----------------
W, H = 1055, 1496
COL_L = [40.7, 266.0, 491.4, 716.8]
PW = 187.3
ROW_T = [35.0 + 211.43 * i for i in range(7)]
PH = 158.6
CLS_RANGE = [[0.084, 1.0], [0.71, 1.0], [0.066, 1.0], [0.657, 1.0], [0.0, 1.0], [0.16, 1.0], [0.253, 1.0]]
DDE_RANGE = [[10.05, 27.65], [8.37, 17.55], [9.7, 27.6], [7.35, 9.49], [7.7, 27.7], [7.13, 22.8], [6.72, 13.05]]
CLS_FMT = [".1f", ".2f", ".1f", ".1f", ".1f", ".1f", ".1f"]
DDE_FMT = ["d", "d", "d", ".1f", "d", "d", "d"]
FONT = "DejaVu Sans"

Q_COLORS = sample_colorscale("Inferno", [0.2 + 0.06 * i for i in range(11)])
K_COLORS = sample_colorscale("Viridis", [0.2 + 0.058 * i for i in range(10)])
MBA_COLOR = Q_COLORS[0]
Q_NAMES = ["MBA"] + [f"<i>q</i>-MBA(<i>q</i>={v})" for v in Q_VALUES]
K_NAMES = ["MBA"] + [f"<i>κ</i>-MBA(<i>κ</i>={v})" for v in K_VALUES]

PANELS = [
    (BAL_CLS_Q, BAL_CLS_K, BAL_DDE_Q, BAL_DDE_K),
    (CAR_CLS_Q, CAR_CLS_K, CAR_DDE_Q, CAR_DDE_K),
    (GER_CLS_Q, GER_CLS_K, GER_DDE_Q, GER_DDE_K),
    (MOF_CLS_Q, MOF_CLS_K, MOF_DDE_Q, MOF_DDE_K),
    (MON_CLS_Q, MON_CLS_K, MON_DDE_Q, MON_DDE_K),
    (THR_CLS_Q, THR_CLS_K, THR_DDE_Q, THR_DDE_K),
    (XD6_CLS_Q, XD6_CLS_K, XD6_DDE_Q, XD6_DDE_K),
]

fig = go.Figure()
annotations = []
layout_axes = {}

for r, ds in enumerate(DATASETS):
    xs = NOISE_GER if ds == "GermanGSS" else NOISE
    xmax = xs[-1]
    for c in range(4):
        n = r * 4 + c + 1
        sfx = "" if n == 1 else str(n)
        series = PANELS[r][c]
        is_q = c in (0, 2)
        is_dde = c >= 2
        names = Q_NAMES if is_q else K_NAMES
        colors = Q_COLORS if is_q else [MBA_COLOR] + K_COLORS
        symbol = "triangle-up" if is_dde else "circle"
        for i, ys in enumerate(series):
            show = (r == 0 and c == 2) or (r == 0 and c == 3 and i > 0)
            fig.add_trace(go.Scatter(
                x=xs, y=ys, mode="lines+markers", name=names[i],
                line=dict(color=colors[i], width=1.1),
                marker=dict(symbol=symbol, size=7, color=colors[i], line=dict(width=0)),
                xaxis="x" + sfx, yaxis="y" + sfx, showlegend=show,
            ))
        x0 = COL_L[c] / W
        x1 = (COL_L[c] + PW) / W
        y1 = 1 - ROW_T[r] / H
        y0 = 1 - (ROW_T[r] + PH) / H
        common = dict(showline=True, mirror=True, linecolor="black", linewidth=1,
                      ticks="outside", ticklen=3.5, tickwidth=1, tickcolor="black",
                      showgrid=True, gridcolor="#d0d0d0", gridwidth=1, zeroline=False,
                      automargin=False,
                      tickfont=dict(family=FONT, size=11.4, color="black"))
        layout_axes["xaxis" + sfx] = dict(common, domain=[x0, x1], anchor="y" + sfx,
                                          range=[-0.05 * xmax, 1.05 * xmax],
                                          tickmode="array", tickvals=X_TICKS,
                                          ticklabelstandoff=-4)
        layout_axes["yaxis" + sfx] = dict(common, domain=[y0, y1], anchor="x" + sfx,
                                          range=DDE_RANGE[r] if is_dde else CLS_RANGE[r],
                                          tickmode="array",
                                          tickvals=DDE_TICKS[r] if is_dde else CLS_TICKS[r],
                                          tickformat=DDE_FMT[r] if is_dde else CLS_FMT[r])
        kind = "DDE" if is_dde else "Classification"
        line1 = f"{kind} for {ds}"
        line2 = "\u00a0by " + ("q" if is_q else "k") + "-deformed 4-body approx."
        cx = (COL_L[c] + PW / 2) / W
        annotations.append(dict(text=line1, x=cx, y=1 - (ROW_T[r] - 21.5) / H,
                                xref="paper", yref="paper", xanchor="center", yanchor="middle",
                                showarrow=False, font=dict(family=FONT, size=12, color="black")))
        annotations.append(dict(text=line2, x=cx, y=1 - (ROW_T[r] - 9.0) / H,
                                xref="paper", yref="paper", xanchor="center", yanchor="middle",
                                showarrow=False, font=dict(family=FONT, size=12, color="black")))
        if r == 6:
            annotations.append(dict(text="Noise Level", x=cx, y=1 - (ROW_T[r] + PH + 25.5) / H,
                                    xref="paper", yref="paper", xanchor="center", yanchor="middle",
                                    showarrow=False, font=dict(family=FONT, size=11.6, color="black")))

fig.update_layout(
    width=W, height=H, margin=dict(l=0, r=0, t=0, b=0, autoexpand=False),
    paper_bgcolor="white", plot_bgcolor="white",
    font=dict(family=FONT, size=11.4, color="black"),
    annotations=annotations,
    legend=dict(x=918 / W, y=1 - 537 / H, xanchor="left", yanchor="top",
                font=dict(family=FONT, size=13, color="black"),
                bgcolor="rgba(0,0,0,0)", tracegroupgap=0, itemwidth=30),
    **layout_axes,
)

fig.write_html("out.html")
